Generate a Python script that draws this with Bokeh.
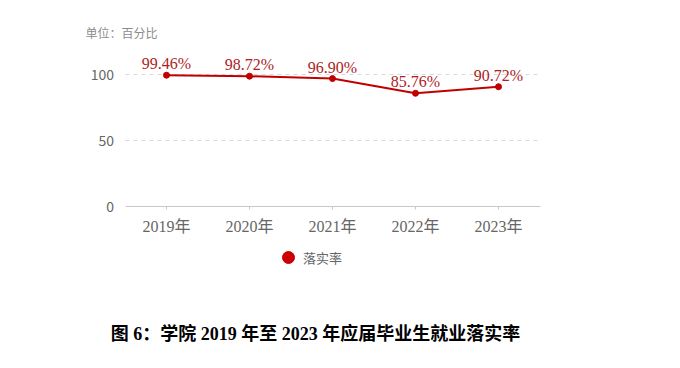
from bokeh.plotting import figure
from bokeh.models import (Label, Legend, LegendItem, ColumnDataSource, FixedTicker,
                          FactorRange, Range1d)
from bokeh.embed import file_html
from bokeh.resources import INLINE

years = ["2019年", "2020年", "2021年", "2022年", "2023年"]
rates = [99.46, 98.72, 96.90, 85.76, 90.72]
labels = ["99.46%", "98.72%", "96.90%", "85.76%", "90.72%"]
y_ticks = [0, 50, 100]
grid_ticks = [50, 100]
series_name = "落实率"
unit_text = "单位：百分比"
caption = "图 6：学院 2019 年至 2023 年应届毕业生就业落实率"

SERIF = "Liberation Serif, Noto Sans CJK SC"
CJK = "Noto Sans CJK SC"

W, H = 664, 352
src = ColumnDataSource(dict(x=years, y=rates, t=labels))

# frame covers the canvas; axes are pinned inside it with fixed_location
x_range = FactorRange(factors=years, range_padding=1.5, range_padding_units="absolute")
y_range = Range1d(-110.61, 156.06)

p = figure(x_range=x_range, y_range=y_range, width=W, height=H,
           output_backend="svg", toolbar_location=None,
           min_border_left=0, min_border_right=0,
           min_border_top=0, min_border_bottom=0)
p.outline_line_color = None
p.background_fill_color = "white"

p.xgrid.grid_line_color = None
p.ygrid.grid_line_color = "#d9d9d9"
p.ygrid.grid_line_dash = "4 4"
p.ygrid.ticker = FixedTicker(ticks=grid_ticks)
p.ygrid.cross_bounds = (0, 5)

p.yaxis.fixed_location = 0
p.yaxis.ticker = FixedTicker(ticks=y_ticks)
p.yaxis.axis_line_color = None
p.yaxis.major_tick_line_color = None
p.yaxis.minor_tick_line_color = None
p.yaxis.major_label_text_color = "#666666"
p.yaxis.major_label_text_font = CJK
p.yaxis.major_label_text_font_size = "14px"
p.yaxis.major_label_standoff = 5

p.xaxis.fixed_location = 0
p.xaxis.bounds = (0, 5)
p.xaxis.axis_line_color = "#c8c8c8"
p.xaxis.major_tick_line_color = "#c8c8c8"
p.xaxis.major_tick_out = 3
p.xaxis.major_tick_in = 0
p.xaxis.major_label_text_color = "#666666"
p.xaxis.major_label_text_font = SERIF
p.xaxis.major_label_text_font_size = "16px"
p.xaxis.major_label_standoff = 9

p.line("x", "y", source=src, line_color="#c00000", line_width=2)
p.scatter("x", "y", source=src, size=6, fill_color="#c00000", line_color="#c00000")
p.text("x", "y", text="t", source=src, text_align="center", text_baseline="bottom",
       y_offset=-3, text_color="#ac2224", text_font_size="16px",
       text_font={"value": SERIF})

# legend-only renderer (no visible point in the plot)
dummy = p.scatter(x=[years[0]], y=[float("nan")], size=12,
                  fill_color="#cc0000", line_color="#cc0000")
legend = Legend(items=[LegendItem(label=series_name, renderers=[dummy])],
                location=(273, 80), orientation="horizontal",
                label_text_font=CJK, label_text_font_size="13px",
                label_text_color="#666666", border_line_color=None,
                background_fill_alpha=0, glyph_width=30, glyph_height=30,
                label_standoff=0, padding=2, margin=0)
p.add_layout(legend, "center")

p.add_layout(Label(x=85, y=H - 32, x_units="screen", y_units="screen",
                   text=unit_text, text_font=CJK, text_font_size="12px",
                   text_color="#8c8c8c", text_baseline="middle"))
p.add_layout(Label(x=315, y=H - 333, x_units="screen", y_units="screen",
                   text=caption, text_font=SERIF, text_font_size="18px",
                   text_font_style="bold", text_color="black",
                   text_align="center", text_baseline="middle"))

open("out.html", "w").write(file_html(p, INLINE))
